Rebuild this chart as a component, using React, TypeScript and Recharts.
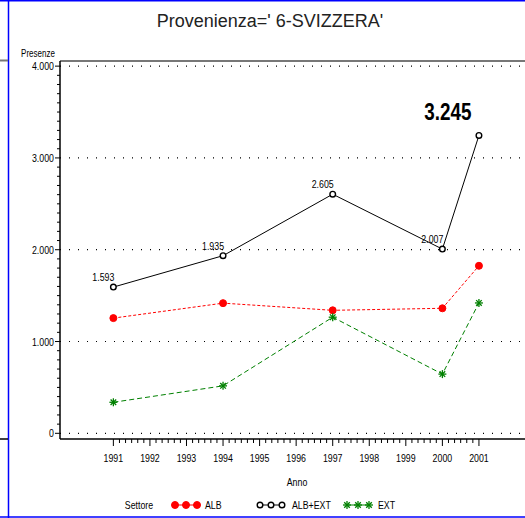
import { LineChart, Line, XAxis, YAxis, ReferenceLine, LabelList } from 'recharts';

const anni = [1991, 1994, 1997, 2000, 2001];
const alb = [1255, 1418, 1340, 1362, 1825];
const ext = [338, 517, 1265, 645, 1420];
const albExt = [1593, 1935, 2605, 2007, 3245];

const anniTicks = [1991, 1992, 1993, 1994, 1995, 1996, 1997, 1998, 1999, 2000, 2001];
const presenzeTicks = [0, 1000, 2000, 3000, 4000];

const data = anni.map((anno, i) => ({ anno, alb: alb[i], ext: ext[i], albExt: albExt[i] }));

// minor ticks: 5 per anno on x, 9 per 1000 on y
const xMinor: number[] = [];
anniTicks.forEach((a) => {
  if (a < 2001) for (let k = 1; k < 6; k++) xMinor.push(a + k / 6);
});
const yMinor: number[] = [];
presenzeTicks.forEach((v) => {
  if (v < 4000) for (let k = 1; k < 10; k++) yMinor.push(v + k * 100);
});

const FONT = "'Liberation Sans', Arial, sans-serif";
const fmt = (v: number) => String(v).replace(/\B(?=(\d{3})+(?!\d))/g, '.');

// narrow text, like the SAS graph font
function NText({ x, y, anchor = 'start', size = 11, sx = 0.8, weight = 'normal', children }: any) {
  return (
    <text
      transform={`translate(${x},${y}) scale(${sx},1)`}
      textAnchor={anchor}
      fontSize={size}
      fontWeight={weight}
      fontFamily={FONT}
      fill="#000"
    >
      {children}
    </text>
  );
}

function XTick({ x, y, payload }: any) {
  const major = Number.isInteger(payload.value);
  return (
    <g>
      <line x1={x} x2={x} y1={y} y2={y + (major ? 7 : 4)} stroke="#000" strokeWidth={1} />
      {major && <NText x={x} y={y + 23} anchor="middle">{payload.value}</NText>}
    </g>
  );
}

function YTick({ x, y, payload }: any) {
  const major = payload.value % 1000 === 0;
  return (
    <g>
      <line x1={x - (major ? 5 : 3)} x2={x} y1={y} y2={y} stroke="#000" strokeWidth={1} />
      {major && <NText x={x - 6} y={y + 4} anchor="end">{fmt(payload.value)}</NText>}
    </g>
  );
}

function AlbDot({ cx, cy }: any) {
  return <circle cx={cx} cy={cy} r={3.5} fill="#ff0000" stroke="#ff0000" />;
}

function TotDot({ cx, cy }: any) {
  return <circle cx={cx} cy={cy} r={2.8} fill="#fff" stroke="#000" strokeWidth={1.4} />;
}

function StarDot({ cx, cy }: any) {
  const s = 4;
  const d = 2.8;
  return (
    <g stroke="#008000" strokeWidth={1.3}>
      <line x1={cx - s} x2={cx + s} y1={cy} y2={cy} />
      <line x1={cx} x2={cx} y1={cy - s} y2={cy + s} />
      <line x1={cx - d} x2={cx + d} y1={cy - d} y2={cy + d} />
      <line x1={cx - d} x2={cx + d} y1={cy + d} y2={cy - d} />
    </g>
  );
}

function TotLabel({ x, y, value, index }: any) {
  if (index === albExt.length - 1) {
    return (
      <NText x={x - 31} y={y - 15} anchor="middle" size={23} sx={0.82} weight="bold">
        {fmt(value)}
      </NText>
    );
  }
  return (
    <NText x={x + 1} y={y - 6} anchor="end">
      {fmt(value)}
    </NText>
  );
}

const legendItems = [
  { name: 'ALB', color: '#ff0000', kind: 'dot', x: 174, tx: 205 },
  { name: 'ALB+EXT', color: '#000', kind: 'circle', x: 259, tx: 292 },
  { name: 'EXT', color: '#008000', kind: 'star', x: 346, tx: 378 },
];

export default function App() {
  return (
    <div style={{ position: 'fixed', left: 0, top: 0, width: 525, height: 518, background: '#fff', overflow: 'hidden' }}>
      <LineChart
        width={525}
        height={518}
        data={data}
        margin={{ top: 61, right: 0, bottom: 0, left: 0 }}
      >
        <XAxis
          dataKey="anno"
          type="number"
          domain={[1989.54, 2002.26]}
          ticks={[...anniTicks, ...xMinor]}
          interval={0}
          allowDataOverflow
          height={79}
          tickSize={0}
          tickMargin={0}
          tickLine={false}
          tick={<XTick />}
          axisLine={{ stroke: '#000', strokeWidth: 1.5 }}
        />
        <YAxis
          type="number"
          domain={[-62, 4056]}
          ticks={[...presenzeTicks, ...yMinor]}
          interval={0}
          allowDataOverflow
          width={60}
          tickSize={0}
          tickMargin={0}
          tickLine={false}
          tick={<YTick />}
          axisLine={{ stroke: '#000', strokeWidth: 1.5 }}
        />
        {presenzeTicks.map((v) => (
          <ReferenceLine key={v} y={v} stroke="#000" strokeWidth={1.2} strokeDasharray="1 8" />
        ))}
        <ReferenceLine y={4056} stroke="#777" strokeWidth={2} />
        <Line
          dataKey="albExt"
          name="ALB+EXT"
          stroke="#000"
          strokeWidth={1}
          dot={<TotDot />}
          activeDot={false}
          isAnimationActive={false}
        >
          <LabelList dataKey="albExt" content={<TotLabel />} />
        </Line>
        <Line
          dataKey="alb"
          name="ALB"
          stroke="#ff0000"
          strokeWidth={1}
          strokeDasharray="3 2"
          dot={<AlbDot />}
          activeDot={false}
          isAnimationActive={false}
        />
        <Line
          dataKey="ext"
          name="EXT"
          stroke="#008000"
          strokeWidth={1}
          strokeDasharray="5 3"
          dot={<StarDot />}
          activeDot={false}
          isAnimationActive={false}
        />
      </LineChart>

      <svg width={525} height={518} style={{ position: 'absolute', left: 0, top: 0, pointerEvents: 'none' }}>
        {/* frame of the page */}
        <line x1={0} x2={525} y1={0.5} y2={0.5} stroke="#0000ff" strokeWidth={2} />
        <line x1={8.5} x2={8.5} y1={0} y2={518} stroke="#0000ff" strokeWidth={1.5} />
        <line x1={0} x2={525} y1={517} y2={517} stroke="#0000ff" strokeWidth={1.5} />
        <line x1={0} x2={8} y1={60.5} y2={60.5} stroke="#777" strokeWidth={2} />
        <line x1={0} x2={8} y1={439} y2={439} stroke="#000" strokeWidth={1.5} />

        <text x={270} y={27} textAnchor="middle" fontSize={18} fontFamily={FONT} fill="#222">
          Provenienza=' 6-SVIZZERA'
        </text>
        <NText x={38} y={57} anchor="middle" size={10}>Presenze</NText>
        <NText x={297} y={486} anchor="middle">Anno</NText>

        <NText x={139} y={509} anchor="middle">Settore</NText>
        {legendItems.map((it) => (
          <g key={it.name}>
            <line x1={it.x} x2={it.x + 23} y1={505} y2={505} stroke={it.color} strokeWidth={1} />
            {[0, 1, 2].map((k) => {
              const cx = it.x + 1 + k * 11;
              if (it.kind === 'dot') return <AlbDot key={k} cx={cx} cy={505} />;
              if (it.kind === 'circle') return <TotDot key={k} cx={cx} cy={505} />;
              return <StarDot key={k} cx={cx} cy={505} />;
            })}
            <NText x={it.tx} y={509}>{it.name}</NText>
          </g>
        ))}
      </svg>
    </div>
  );
}
